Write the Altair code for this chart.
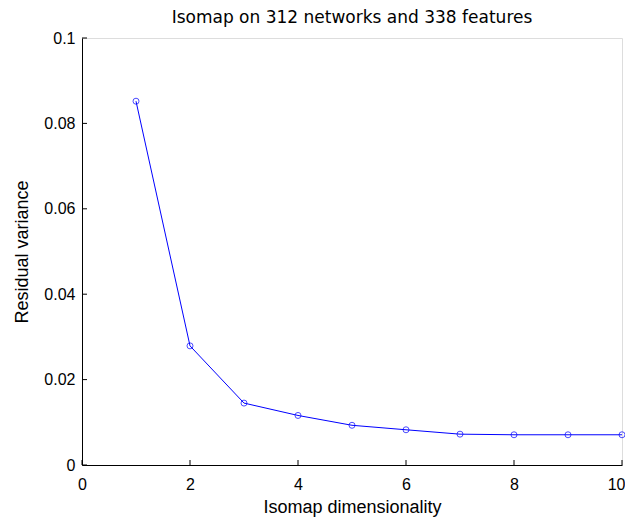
import altair as alt
import pandas as pd

dims = [1, 2, 3, 4, 5, 6, 7, 8, 9, 10]
resid = [0.0852, 0.0279, 0.0145, 0.0116, 0.0093, 0.00825, 0.00722, 0.00708, 0.00708, 0.00708]
x_ticks = [0, 2, 4, 6, 8, 10]
y_ticks = [0, 0.02, 0.04, 0.06, 0.08, 0.1]

df = pd.DataFrame({"d": dims, "r": resid})
xt = pd.DataFrame({"t": x_ticks})
yt = pd.DataFrame({"t": y_ticks})

W, H = 540, 427
FONT = "Liberation Sans"

xs = alt.Scale(domain=[0, 10], nice=False)
ys = alt.Scale(domain=[0, 0.1], nice=False)

base = alt.Chart(df)
line = base.mark_line(color="#0000ff", strokeWidth=1).encode(
    x=alt.X("d:Q", scale=xs, title="Isomap dimensionality",
            axis=alt.Axis(values=x_ticks, ticks=False, domainColor="black", labelColor="black",
                          labelFontSize=16, titleFontSize=18, labelPadding=11, titlePadding=6,
                          titleColor="black", titleFontWeight="normal", labelFont=FONT, titleFont=FONT,
                          grid=False, format="d", labelFlush=False,
                          labelAlign={"condition": {"test": "datum.value == 10", "value": "right"}, "value": "center"},
                          labelOffset={"condition": {"test": "datum.value == 10", "value": 3}, "value": 0})),
    y=alt.Y("r:Q", scale=ys, title="Residual variance",
            axis=alt.Axis(values=y_ticks, ticks=False, domainColor="black", labelColor="black",
                          labelFontSize=16, titleFontSize=18, labelPadding=7, titlePadding=12,
                          titleColor="black", titleFontWeight="normal", labelFont=FONT, titleFont=FONT,
                          grid=False, labelFlush=False,
                          labelExpr="datum.value == 0 ? '0' : format(datum.value, '.2~f')")),
)
pts = base.mark_point(shape="circle", filled=False, color="#0000ff", size=36, strokeWidth=1).encode(
    x=alt.X("d:Q", scale=xs), y=alt.Y("r:Q", scale=ys)
)
xtick = alt.Chart(xt).mark_rule(color="black", strokeWidth=1).encode(
    x=alt.X("t:Q", scale=xs), y=alt.value(H), y2=alt.value(H - 5)
)
ytick = alt.Chart(yt).mark_rule(color="black", strokeWidth=1).encode(
    y=alt.Y("t:Q", scale=ys), x=alt.value(0), x2=alt.value(5)
)

chart = alt.layer(line, pts, xtick, ytick).properties(
    width=W, height=H,
    title=alt.TitleParams("Isomap on 312 networks and 338 features", font="DejaVu Sans", fontSize=17,
                          fontWeight="normal", color="black", offset=3, anchor="middle"),
    autosize=alt.AutoSizeParams(type="none"),
    padding={"left": 74, "top": 30, "right": 3, "bottom": 52},
).configure_view(stroke=None).configure(background="white")

chart.save("out.html", embed_options={"renderer": "svg", "actions": False})
